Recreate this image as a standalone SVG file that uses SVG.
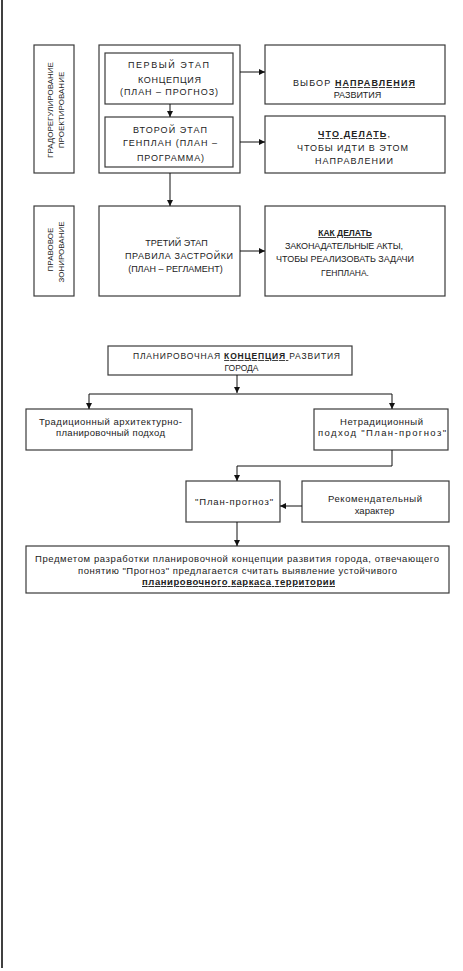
<svg xmlns="http://www.w3.org/2000/svg" width="463" height="971" viewBox="0 0 463 971">
<style>
text{font-family:"Liberation Sans",Arial,sans-serif;fill:#222;}
.c{font-size:9px;text-anchor:middle;}
.v{font-size:8px;text-anchor:middle;}
.k{font-size:8.5px;text-anchor:middle;}
.l{font-size:9.5px;text-anchor:middle;}
.b{font-weight:bold;text-decoration:underline;}
.box{fill:#fff;stroke:#3a3a3a;stroke-width:1.2;}
.cn{fill:none;stroke:#111;stroke-width:1;}
</style>
<defs>
<marker id="ah" viewBox="0 0 10 10" refX="10" refY="5" markerWidth="6" markerHeight="6" orient="auto" markerUnits="userSpaceOnUse">
<path d="M0,0 L10,5 L0,10 z" fill="#111"/>
</marker>
</defs>
<rect x="0" y="0" width="463" height="971" fill="#fff"/>
<line x1="2" y1="0" x2="2" y2="968" stroke="#000" stroke-width="1.5"/>

<g id="n-grad">
<rect class="box" x="34" y="45" width="40" height="128"/>
<text class="v" transform="translate(53,110) rotate(-90)">ГРАДОРЕГУЛИРОВАНИЕ</text>
<text class="v" transform="translate(64,110) rotate(-90)">ПРОЕКТИРОВАНИЕ</text>
</g>
<g id="n-outer">
<rect class="box" x="99" y="45" width="141" height="128"/>
</g>
<g id="n-stage1">
<rect class="box" x="105" y="53" width="128" height="51"/>
<text class="c" x="168.5" y="68" textLength="81" lengthAdjust="spacing">ПЕРВЫЙ ЭТАП</text>
<text class="c" x="169.5" y="83" textLength="63" lengthAdjust="spacing">КОНЦЕПЦИЯ</text>
<text class="c" x="169" y="95" textLength="98" lengthAdjust="spacing">(ПЛАН – ПРОГНОЗ)</text>
</g>
<g id="n-stage2">
<rect class="box" x="105" y="117" width="128" height="50"/>
<text class="c" x="170" y="133" textLength="74" lengthAdjust="spacing">ВТОРОЙ ЭТАП</text>
<text class="c" x="170" y="146" textLength="94" lengthAdjust="spacing">ГЕНПЛАН (ПЛАН –</text>
<text class="c" x="170.5" y="161" textLength="67" lengthAdjust="spacing">ПРОГРАММА)</text>
</g>
<g id="n-r1">
<rect class="box" x="265" y="45" width="180" height="59"/>
<text class="c" x="354" y="86" textLength="122" lengthAdjust="spacing">ВЫБОР <tspan class="b">НАПРАВЛЕНИЯ</tspan></text>
<text class="c" x="357.5" y="98">РАЗВИТИЯ</text>
</g>
<g id="n-r2">
<rect class="box" x="265" y="116" width="180" height="57"/>
<text class="c" x="354" y="137" textLength="72" lengthAdjust="spacing"><tspan class="b">ЧТО ДЕЛАТЬ</tspan>,</text>
<text class="c" x="352.5" y="151" textLength="111" lengthAdjust="spacing">ЧТОБЫ ИДТИ В ЭТОМ</text>
<text class="c" x="354" y="164" textLength="78" lengthAdjust="spacing">НАПРАВЛЕНИИ</text>
</g>
<g id="n-prav">
<rect class="box" x="34" y="206" width="40" height="90"/>
<text class="v" transform="translate(53,249.5) rotate(-90)">ПРАВОВОЕ</text>
<text class="v" transform="translate(64,252) rotate(-90)">ЗОНИРОВАНИЕ</text>
</g>
<g id="n-stage3">
<rect class="box" x="99" y="206" width="141" height="90"/>
<text class="c" x="176.5" y="246">ТРЕТИЙ ЭТАП</text>
<text class="c" x="179" y="259" textLength="108" lengthAdjust="spacing">ПРАВИЛА ЗАСТРОЙКИ</text>
<text class="c" x="175.5" y="272">(ПЛАН – РЕГЛАМЕНТ)</text>
</g>
<g id="n-r3">
<rect class="box" x="265" y="206" width="180" height="90"/>
<text class="k b" x="345" y="236">КАК ДЕЛАТЬ</text>
<text class="c" x="344" y="249" textLength="118" lengthAdjust="spacing">ЗАКОНАДАТЕЛЬНЫЕ АКТЫ,</text>
<text class="c" x="345" y="262">ЧТОБЫ РЕАЛИЗОВАТЬ ЗАДАЧИ</text>
<text class="k" x="345" y="276">ГЕНПЛАНА.</text>
</g>

<g id="n-concept">
<rect class="box" x="108" y="346" width="244" height="29"/>
<text class="k" x="236.5" y="359" textLength="207" lengthAdjust="spacing">ПЛАНИРОВОЧНАЯ <tspan class="b">КОНЦЕПЦИЯ </tspan>РАЗВИТИЯ</text>
<text class="k" x="241.5" y="371">ГОРОДА</text>
</g>
<g id="n-trad">
<rect class="box" x="26" y="409" width="166" height="41"/>
<text class="l" x="110.5" y="425" textLength="143" lengthAdjust="spacing">Традиционный архитектурно-</text>
<text class="l" x="110.5" y="436" textLength="109" lengthAdjust="spacing">планировочный подход</text>
</g>
<g id="n-netrad">
<rect class="box" x="314" y="409" width="134" height="41"/>
<text class="l" x="381.5" y="425" textLength="83" lengthAdjust="spacing">Нетрадиционный</text>
<text class="l" x="382" y="436" textLength="128" lengthAdjust="spacing">подход "План-прогноз"</text>
</g>
<g id="n-planprog">
<rect class="box" x="186" y="481" width="94" height="41"/>
<text class="l" x="234" y="505" textLength="78" lengthAdjust="spacing">"План-прогноз"</text>
</g>
<g id="n-rekom">
<rect class="box" x="302" y="481" width="147" height="41"/>
<text class="l" x="375" y="502" textLength="94" lengthAdjust="spacing">Рекомендательный</text>
<text class="l" x="374.5" y="514">характер</text>
</g>
<g id="n-predmet">
<rect class="box" x="26" y="546" width="423" height="47"/>
<text class="l" x="237" y="562" textLength="404" lengthAdjust="spacing">Предметом разработки планировочной концепции развития города, отвечающего</text>
<text class="l" x="237.5" y="574" textLength="319" lengthAdjust="spacing">понятию "Прогноз" предлагается считать выявление устойчивого</text>
<text class="l b" x="238.5" y="585" textLength="193" lengthAdjust="spacing">планировочного каркаса территории</text>
</g>

<g id="connectors">
<path class="cn" d="M240,72 H265" marker-end="url(#ah)"/>
<path class="cn" d="M240,142 H265" marker-end="url(#ah)"/>
<path class="cn" d="M170,104 V117" marker-end="url(#ah)"/>
<path class="cn" d="M170,173 V206" marker-end="url(#ah)"/>
<path class="cn" d="M240,251 H265" marker-end="url(#ah)"/>
<path class="cn" d="M237,375 V393" marker-end="url(#ah)"/>
<path class="cn" d="M89,394 H392"/>
<path class="cn" d="M89,394 V409" marker-end="url(#ah)"/>
<path class="cn" d="M392,394 V409" marker-end="url(#ah)"/>
<path class="cn" d="M392,450 V466 H237 V481" marker-end="url(#ah)"/>
<path class="cn" d="M302,506 H280" marker-end="url(#ah)"/>
<path class="cn" d="M237,522 V546" marker-end="url(#ah)"/>
</g>
</svg>
